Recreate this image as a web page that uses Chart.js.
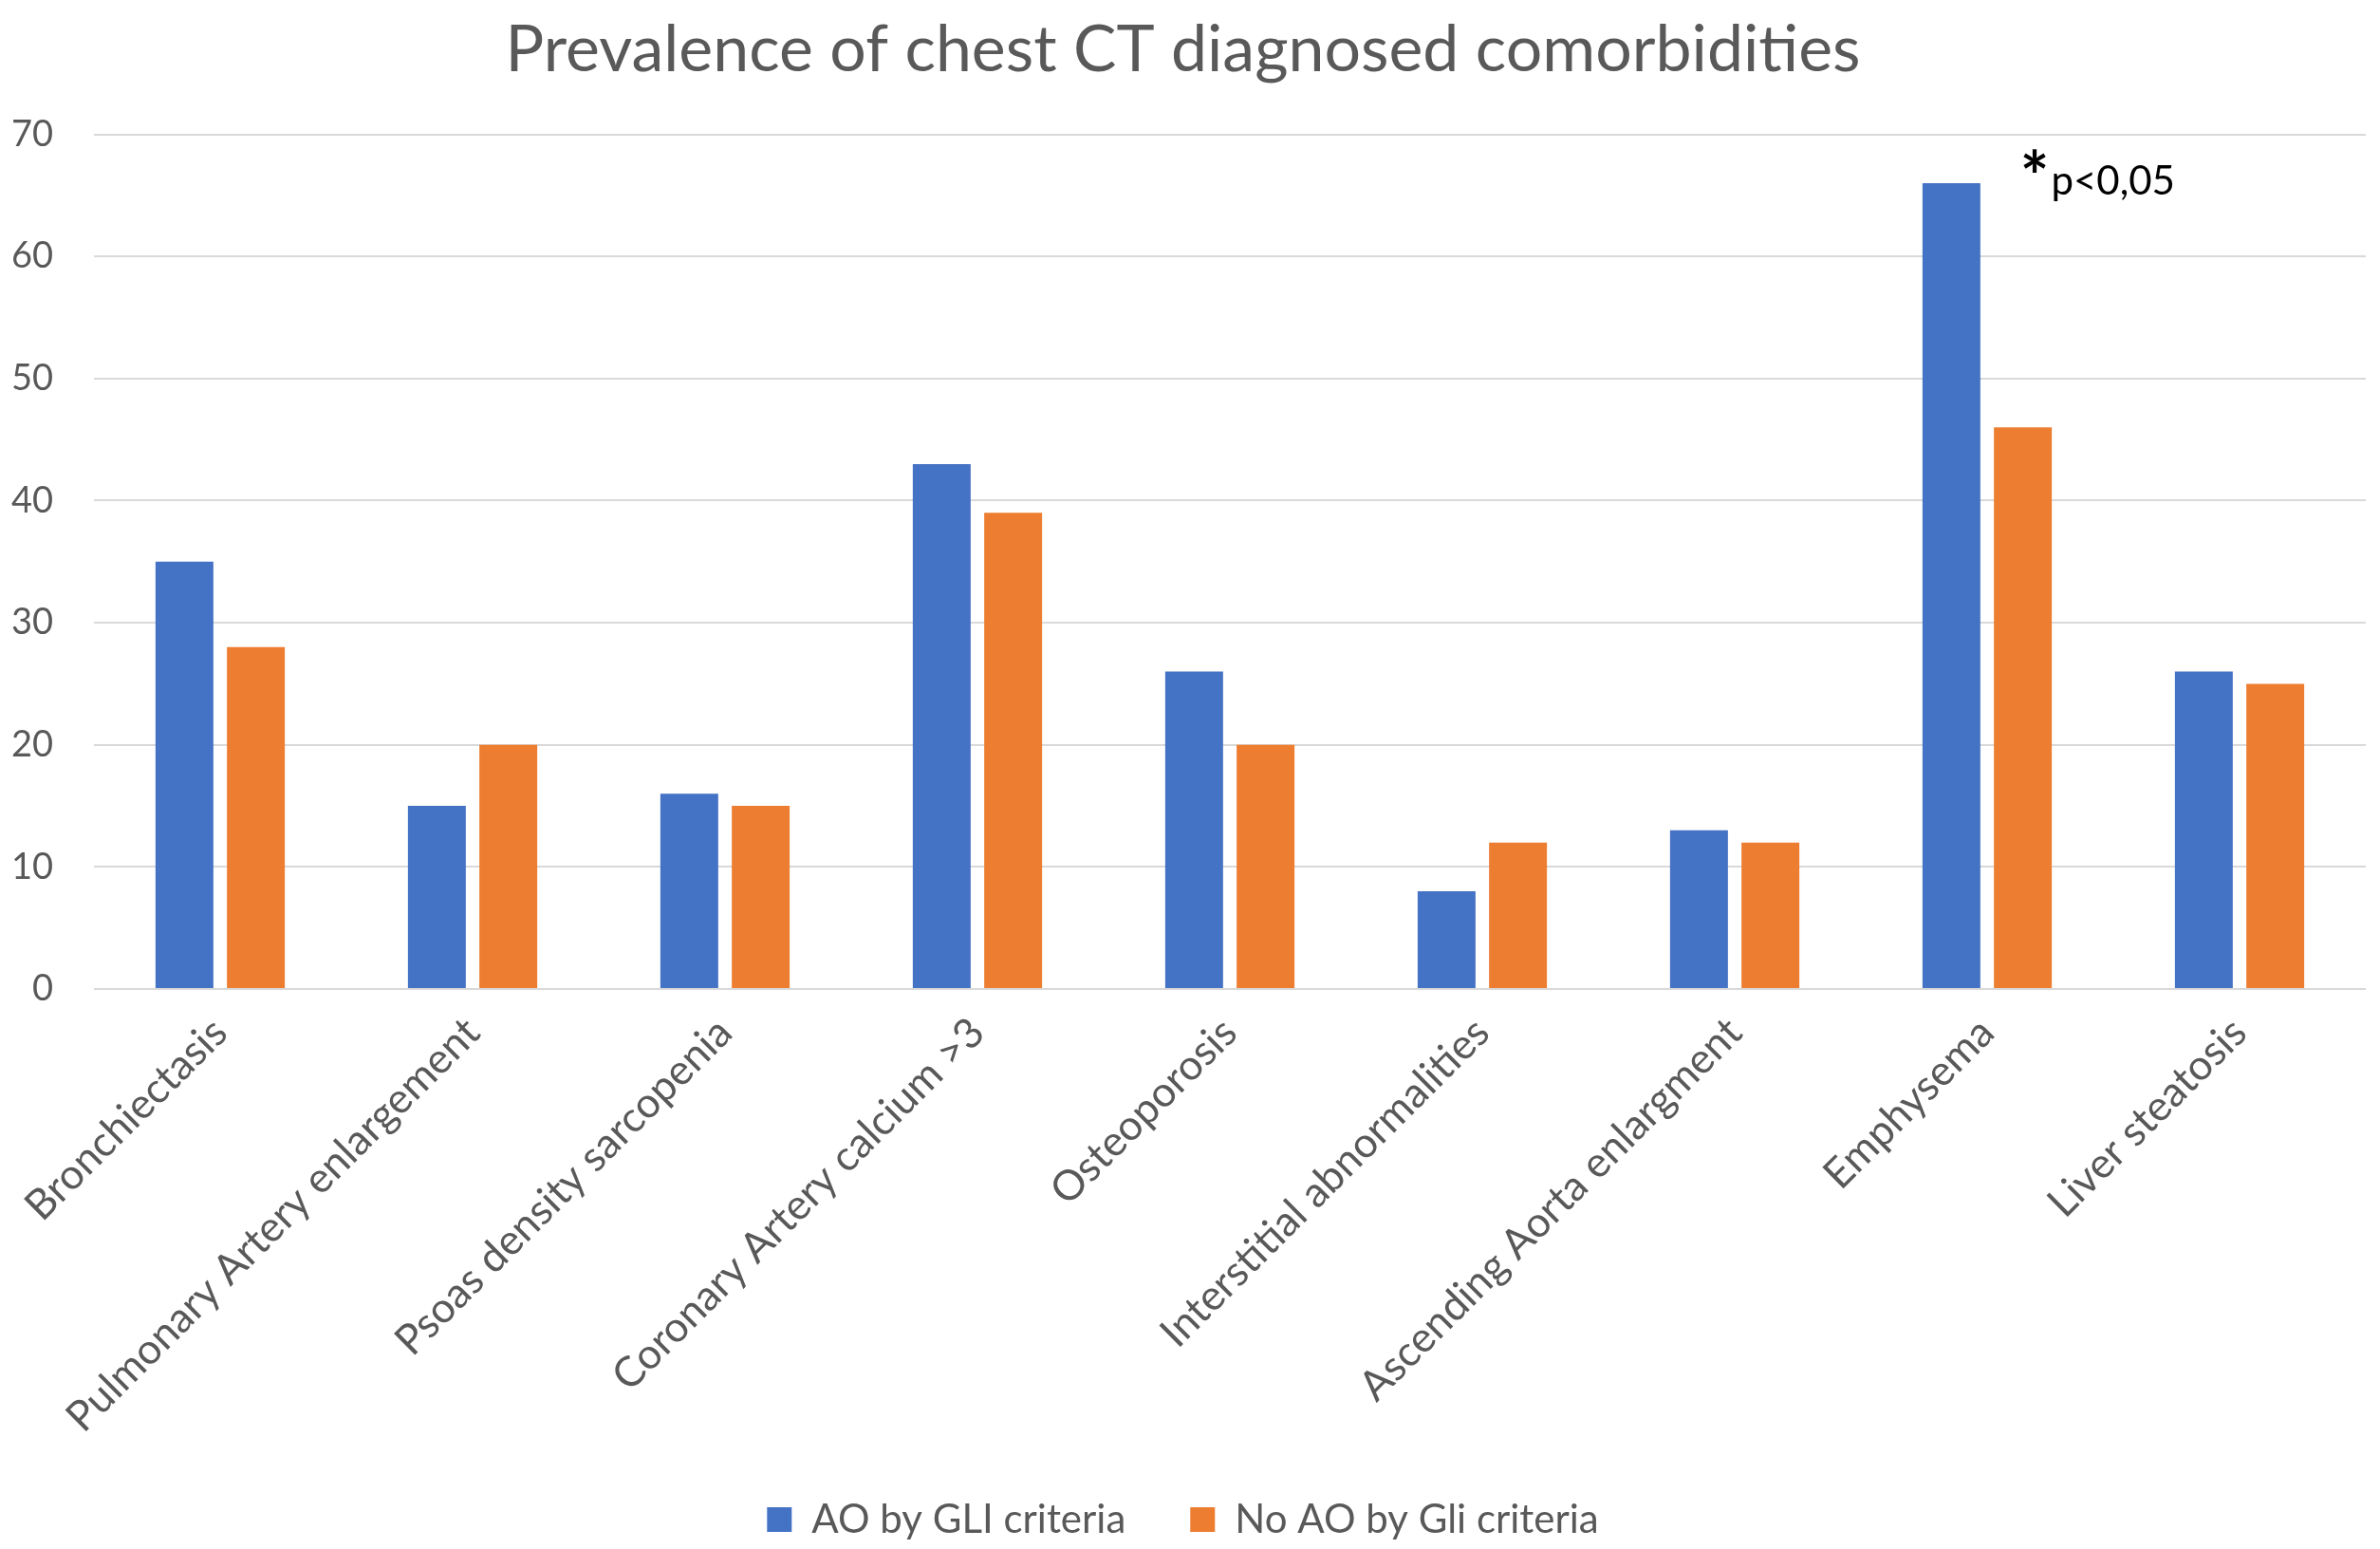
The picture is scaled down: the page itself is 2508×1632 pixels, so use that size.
<!DOCTYPE html>
<html>
<head>
<meta charset="utf-8">
<title>Prevalence of chest CT diagnosed comorbidities</title>
<script src="https://cdn.jsdelivr.net/npm/chart.js@4.4.0/dist/chart.umd.min.js"></script>
<style>
    html, body { margin: 0; padding: 0; background: #ffffff; }
    #chart { display: block; }
</style>
</head>
<body>
<canvas id="chart" width="2508" height="1632"></canvas>
<script>
// Chart data
const categories = [
    'Bronchiectasis',
    'Pulmonary Artery enlargement',
    'Psoas density sarcopenia',
    'Coronary Artery calcium >3',
    'Osteoporosis',
    'Interstitial abnormalities',
    'Ascending Aorta enlargment',
    'Emphysema',
    'Liver steatosis'
];
const aoByGli = [35, 15, 16, 43, 26, 8, 13, 66, 26];
const noAoByGli = [28, 20, 15, 39, 20, 12, 12, 46, 25];
const yTicks = [0, 10, 20, 30, 40, 50, 60, 70];
const seriesNames = ['AO by GLI criteria', 'No AO by Gli criteria'];

const FONT = 'Lato, "Open Sans", sans-serif';
const GREY = '#595959';

// Draws the "*p<0,05" note next to the Emphysema bar
const significanceNote = {
    id: 'significanceNote',
    afterDatasetsDraw(chart) {
        const bar = chart.getDatasetMeta(0).data[7];
        if (!bar) return;
        const ctx = chart.ctx;
        const x = bar.x + bar.width / 2 + 42;
        const y = bar.y + 12;
        ctx.save();
        ctx.fillStyle = '#000000';
        ctx.textBaseline = 'alphabetic';
        ctx.textAlign = 'left';
        ctx.font = 'bold 72px ' + FONT;
        ctx.fillText('*', x, y + 8);
        const starW = ctx.measureText('*').width;
        ctx.font = '42px ' + FONT;
        ctx.fillText('p<0,05', x + starW + 2, y);
        ctx.restore();
    }
};

new Chart(document.getElementById('chart'), {
    type: 'bar',
    data: {
        labels: categories,
        datasets: [
            {
                label: seriesNames[0],
                data: aoByGli,
                backgroundColor: '#4472C4',
                barPercentage: 0.81,
                categoryPercentage: 0.566
            },
            {
                label: seriesNames[1],
                data: noAoByGli,
                backgroundColor: '#ED7D31',
                barPercentage: 0.81,
                categoryPercentage: 0.566
            }
        ]
    },
    options: {
        responsive: false,
        devicePixelRatio: 1,
        animation: false,
        layout: {
            padding: { top: 12, right: 15, bottom: 0, left: 0 }
        },
        plugins: {
            title: {
                display: true,
                text: 'Prevalence of chest CT diagnosed comorbidities',
                color: GREY,
                font: { family: FONT, size: 68, weight: 'normal' },
                padding: { top: 0, bottom: 48 }
            },
            legend: {
                position: 'bottom',
                labels: {
                    color: GREY,
                    font: { family: FONT, size: 42 },
                    boxWidth: 26,
                    boxHeight: 26,
                    padding: 68
                }
            },
            tooltip: { enabled: false }
        },
        scales: {
            x: {
                grid: { display: false },
                border: { display: false },
                ticks: {
                    color: GREY,
                    font: { family: FONT, size: 44 },
                    minRotation: 45,
                    maxRotation: 45,
                    autoSkip: false,
                    padding: 12
                },
                afterFit(scale) {
                    scale.height = 470;
                }
            },
            y: {
                min: 0,
                max: 70,
                afterBuildTicks(scale) {
                    scale.ticks = yTicks.map(v => ({ value: v }));
                },
                grid: {
                    color: '#D9D9D9',
                    lineWidth: 2,
                    drawTicks: false
                },
                border: { display: false },
                ticks: {
                    color: GREY,
                    font: { family: FONT, size: 38 },
                    padding: 43
                },
                afterFit(scale) {
                    scale.width = 99;
                }
            }
        }
    },
    plugins: [significanceNote]
});
</script>
</body>
</html>
